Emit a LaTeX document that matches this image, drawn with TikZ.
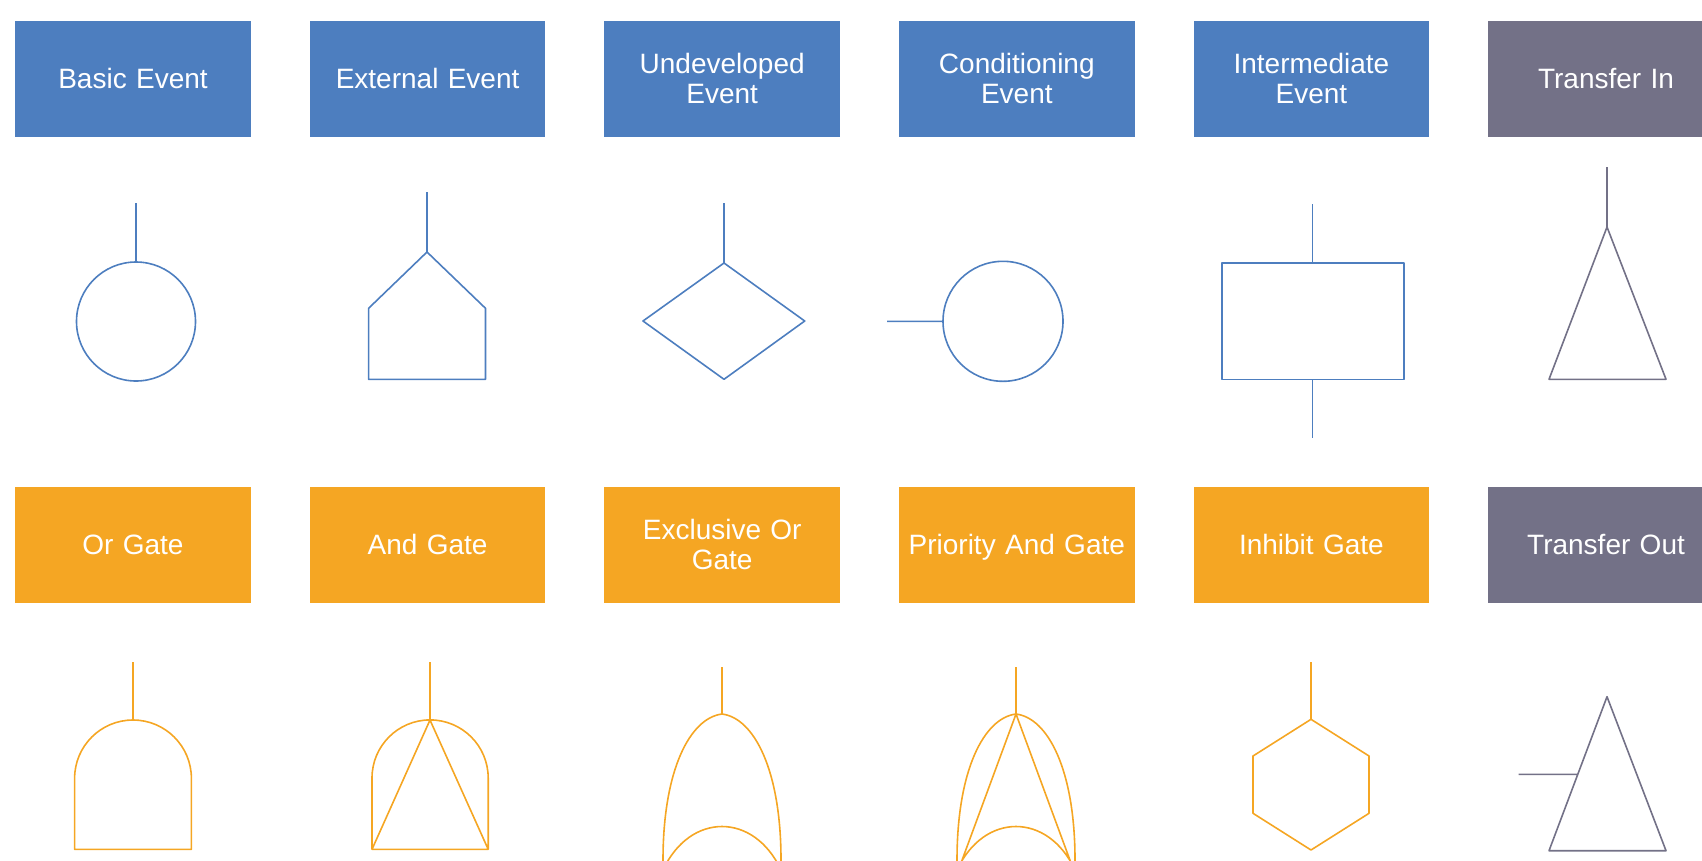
\documentclass[tikz,border=0pt]{standalone}
\usepackage{fontspec}
\setmainfont{Liberation Sans}
\usetikzlibrary{positioning}
\definecolor{eventblue}{HTML}{4D7EBF}
\definecolor{gateorange}{HTML}{F5A623}
\definecolor{transfergrey}{HTML}{737187}
\tikzset{
    tag/.style={rectangle,minimum width=235.5pt,minimum height=116pt,inner sep=0pt,
        text width=222pt,align=center,text=white,font=\fontsize{28}{30}\selectfont},
    eventtag/.style={tag,fill=eventblue},
    gatetag/.style={tag,fill=gateorange},
    transfertag/.style={tag,fill=transfergrey},
    sym/.style={line width=1.6pt,line join=round},
}
\begin{document}
\begin{tikzpicture}[x=1pt,y=-1pt]
            \clip (0,0) rectangle (1702,860);
            % labels
            \node[eventtag] (basic) at (133,78.7) {Basic Event};
            \node[eventtag,right=58.7pt of basic] (external) {External Event};
            \node[eventtag,right=58.7pt of external] (undeveloped) {Undeveloped\\Event};
            \node[eventtag,right=58.7pt of undeveloped] (conditioning) {Conditioning\\Event};
            \node[eventtag,right=58.7pt of conditioning] (intermediate) {Intermediate\\Event};
            \node[transfertag,right=58.7pt of intermediate] (transin) {Transfer In};
            \node[gatetag,below=349.5pt of basic] (orgate) {Or Gate};
            \node[gatetag,right=58.7pt of orgate] (andgate) {And Gate};
            \node[gatetag,right=58.7pt of andgate] (xorgate) {Exclusive Or\\Gate};
            \node[gatetag,text depth=0pt,right=58.7pt of xorgate] (pandgate) {Priority And Gate};
            \node[gatetag,right=58.7pt of pandgate] (inhibit) {Inhibit Gate};
            \node[transfertag,right=58.7pt of inhibit] (transout) {Transfer Out};
            % event symbols
            \draw[sym,eventblue] (136,203) -- (136,262) (136,321.5) circle[radius=59.5pt];
            \draw[sym,eventblue] (427,192) -- (427,252)
                (427,252) -- (485.5,308.3) -- (485.5,379.3) -- (368.6,379.3) -- (368.6,308.3) -- cycle;
            \draw[sym,eventblue] (724,203) -- (724,263)
                (724,263) -- (804.7,321) -- (724,379.3) -- (643,321) -- cycle;
            \draw[sym,eventblue] (887,321.3) -- (943,321.3) (1003,321.3) circle[radius=60pt];
            \draw[sym,eventblue] (1221.7,262.7) rectangle (1403.8,379.3)
                (1312.5,204) -- (1312.5,262.7) (1312.5,379.3) -- (1312.5,438.3);
            \draw[sym,transfergrey] (1607,167) -- (1607,227)
                (1607,227) -- (1666,379.3) -- (1549,379.3) -- cycle;
            % gate symbols
            \draw[sym,gateorange] (133,662) -- (133,720)
                (74.6,849.3) -- (74.6,778.4) arc[start angle=180,end angle=0,radius=58.4pt]
                -- (191.4,849.3) -- cycle;
            \draw[sym,gateorange] (430,662) -- (430,720)
                (372,849.3) -- (372,778) arc[start angle=180,end angle=0,radius=58.1pt]
                -- (488.2,849.3) -- cycle
                (372,849.3) -- (430,720) -- (488.2,849.3);
            \draw[sym,gateorange] (722,667) -- (722,714)
                (663,870) -- (663,860) .. controls (663,770) and (690,718) .. (722,714)
                .. controls (754,718) and (781,770) .. (781,860) -- (781,870)
                (663,870) .. controls (690,812) and (754,812) .. (781,870);
            \draw[sym,gateorange] (1016,667) -- (1016,714)
                (957,870) -- (957,860) .. controls (957,770) and (984,718) .. (1016,714)
                .. controls (1048,718) and (1075,770) .. (1075,860) -- (1075,870)
                (957,870) .. controls (984,812) and (1048,812) .. (1075,870)
                (959.5,867) -- (1016,714) -- (1072.5,867);
            \draw[sym,gateorange] (1311,662) -- (1311,719.3)
                (1311,719.3) -- (1369,756) -- (1369,813.3) -- (1311,850) -- (1253,813.3) -- (1253,756) -- cycle;
            \draw[sym,transfergrey] (1518.5,774.3) -- (1577.8,774.3)
                (1607,696.7) -- (1666,850.7) -- (1549,850.7) -- cycle;
\end{tikzpicture}
\end{document}
